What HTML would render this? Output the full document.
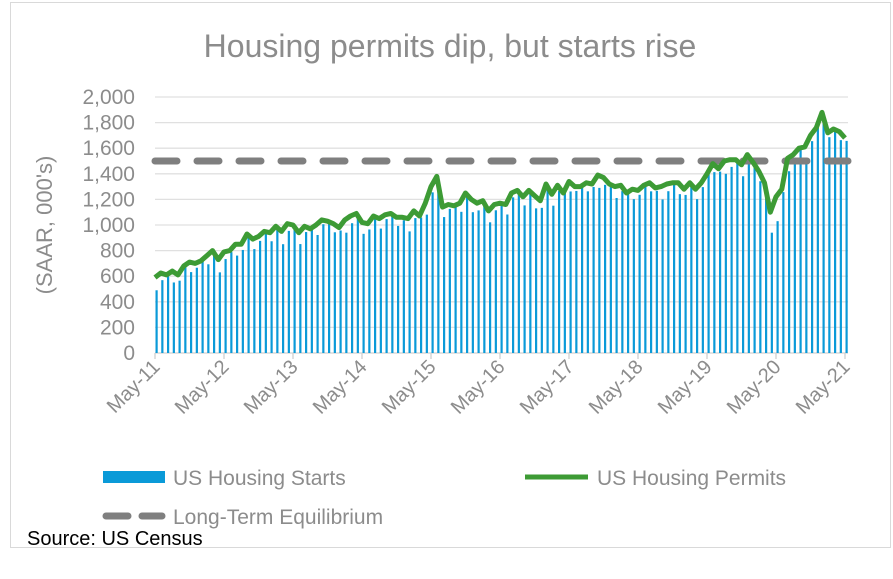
<!DOCTYPE html>
<html><head><meta charset="utf-8"><style>
body{margin:0;background:#fff;width:893px;height:574px;overflow:hidden;font-family:"Liberation Sans",Arial,sans-serif}
</style></head><body>
<svg id="s" width="893" height="574" xmlns="http://www.w3.org/2000/svg" font-family="Liberation Sans, Arial, sans-serif">
<rect x="10.5" y="2.5" width="880" height="545" fill="#fff" stroke="#d9d9d9"/>
<text x="450" y="57" text-anchor="middle" font-size="32" fill="#8c8c8c">Housing permits dip, but starts rise</text>
<g id="grid" stroke="#e0e0e0" stroke-width="1.3"></g>
<g id="ylab" font-size="21" fill="#8c8c8c" text-anchor="end"></g>
<text transform="translate(52,225) rotate(-90)" text-anchor="middle" font-size="22" fill="#8c8c8c">(SAAR, 000's)</text>
<g id="bars" fill="#0a9ad8"></g>
<line x1="155" y1="161" x2="848" y2="161" stroke="#7f7f7f" stroke-width="7" stroke-dasharray="22,20" stroke-linecap="round"/>
<polyline id="perm" fill="none" stroke="#3d9b35" stroke-width="5" stroke-linejoin="round"/>
<g id="xl" font-size="20" fill="#8c8c8c" text-anchor="end"></g>
<rect x="103" y="471" width="62" height="12" fill="#0a9ad8"/>
<text x="173" y="485" font-size="21" fill="#8c8c8c">US Housing Starts</text>
<line x1="525" y1="477" x2="588" y2="477" stroke="#3d9b35" stroke-width="5"/>
<text x="597" y="485" font-size="21" fill="#8c8c8c">US Housing Permits</text>
<line x1="106" y1="516" x2="162" y2="516" stroke="#7f7f7f" stroke-width="7" stroke-dasharray="22,14" stroke-linecap="round"/>
<text x="173" y="524" font-size="21" fill="#8c8c8c">Long-Term Equilibrium</text>
<text x="27" y="545" font-size="20" fill="#000">Source: US Census</text>
</svg>
<script>
var NS="http://www.w3.org/2000/svg";
function el(t,a,p,txt){var e=document.createElementNS(NS,t);for(var k in a)e.setAttribute(k,a[k]);if(txt)e.textContent=txt;document.getElementById(p).appendChild(e);return e;}
function Y(v){return 353-v*0.128;}
function X(i){return 155+i*5.75;}
for(var v=0;v<=2000;v+=200){ if(v>0) el("line",{x1:155,x2:848,y1:Y(v),y2:Y(v)},"grid"); el("text",{x:135,y:Y(v)+7},"ylab",v.toLocaleString("en-US"));}
el("line",{x1:155,x2:848,y1:353,y2:353,stroke:"#d0d0d0"},"grid");
var P=[590,625,610,640,610,680,710,700,720,760,800,730,790,800,850,850,930,890,910,950,940,990,950,1010,1000,940,990,970,1000,1040,1030,1010,980,1040,1070,1090,1020,1010,1070,1050,1080,1090,1060,1060,1050,1110,1070,1170,1300,1380,1140,1160,1150,1170,1250,1200,1170,1190,1110,1160,1170,1160,1250,1270,1220,1270,1230,1190,1320,1240,1310,1250,1340,1300,1300,1330,1320,1390,1370,1320,1300,1310,1250,1280,1270,1310,1330,1290,1300,1320,1330,1330,1280,1330,1280,1330,1400,1480,1440,1500,1510,1510,1470,1550,1490,1420,1330,1100,1220,1280,1520,1550,1600,1610,1700,1760,1880,1720,1750,1730,1680];
var pts=[];
for(var i=0;i<P.length;i++){
 pts.push(X(i).toFixed(1)+","+Y(P[i]).toFixed(1));
 var s=P[i]-45+((i*37)%11-5)*11; if(i==107)s=940; if(i==108)s=1030;
 el("rect",{x:X(i)+0.5,y:Y(s),width:2.2,height:353-Y(s)},"bars");
}
document.getElementById("perm").setAttribute("points",pts.join(" "));
var yrs=["May-11","May-12","May-13","May-14","May-15","May-16","May-17","May-18","May-19","May-20","May-21"];
for(var j=0;j<11;j++){var x=X(j*12);
 el("line",{x1:x,x2:x,y1:353,y2:359,stroke:"#d0d0d0"},"grid");
 el("text",{transform:"translate("+(x+6)+",368) rotate(-45)"},"xl",yrs[j]);}
</script>
</body></html>
